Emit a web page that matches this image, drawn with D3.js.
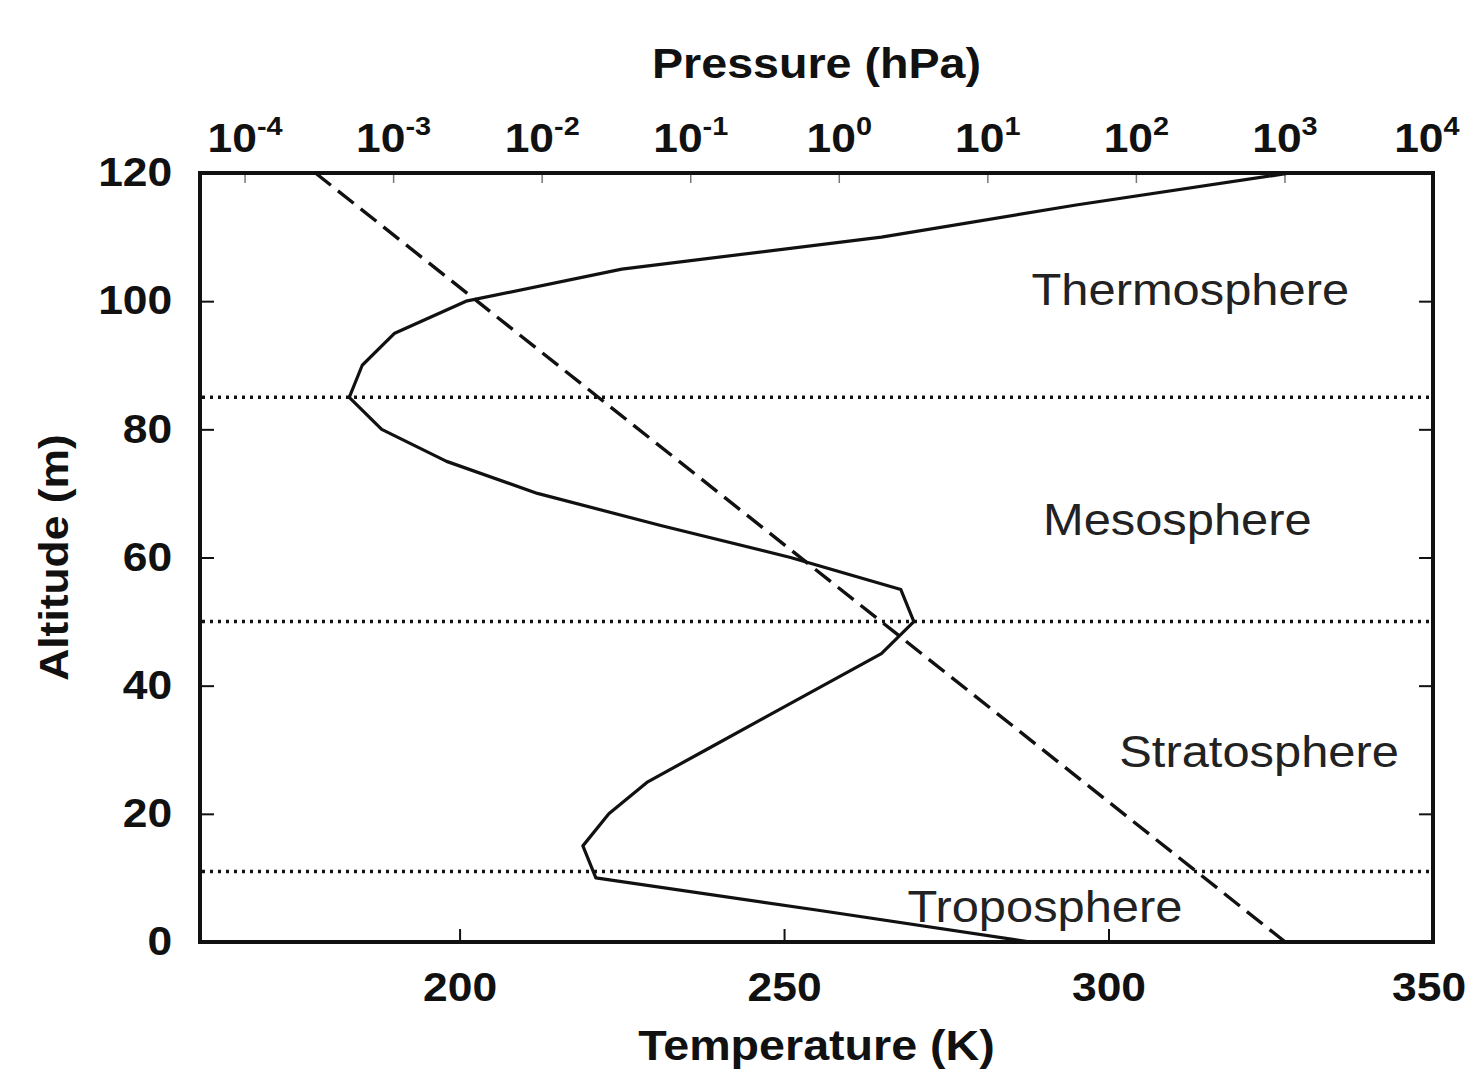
<!DOCTYPE html>
<html>
<head>
<meta charset="utf-8">
<script src="https://cdn.jsdelivr.net/npm/d3@7"></script>
<style>
  body { margin: 0; background: #fff; }
  svg { display: block; }
</style>
</head>
<body>
<div id="parentDiv"></div>
<script>
// data
const altitude = [0, 5, 10, 15, 20, 25, 30, 35, 40, 45, 50, 55, 60, 65, 70, 75, 80, 85, 90, 95, 100, 105, 110, 115, 120];
const temperature = [288, 255, 221, 219, 223, 229, 238, 247, 256, 265, 270, 268, 251, 231, 212, 198, 188, 183, 185, 190, 201, 225, 265, 295, 328];

const pressureAltitude = [0, 120];
const pressure = [1013, 3e-4];

const layerBounds = [11, 50, 85];
const layerNames = ["Troposphere", "Stratosphere", "Mesosphere", "Thermosphere"];
// where each name sits, in (K, km)
const layerLabelT = [290.2, 323.2, 310.6, 312.6];
const layerLabelA = [3.1, 27.3, 63.5, 99.4];

const altTicks = [0, 20, 40, 60, 80, 100, 120];
const tempTicks = [200, 250, 300, 350];
const pressureExp = [-4, -3, -2, -1, 0, 1, 2, 3, 4];

const width = 1468;
const height = 1072;
const margin = {top: 173, right: 35, bottom: 130, left: 200};
const ink = "#111";
const stretch = 1.11; // the figure's text is a bit wide

const svg = d3.select('#parentDiv').append('svg')
  .attr('width', width)
  .attr('height', height)
  .style('font-family', '"Liberation Sans", Arial, sans-serif');

const x = d3.scaleLinear().domain([160, 350]).range([margin.left, width - margin.right]);
const xP = d3.scaleLog().domain([Math.pow(10, -4.3), 1e4]).range([margin.left, width - margin.right]);
const y = d3.scaleLinear().domain([0, 120]).range([height - margin.bottom, margin.top]);

const x0 = margin.left, x1 = width - margin.right;
const y0 = margin.top, y1 = height - margin.bottom;

// AXES
const leftAxis = svg.append('g')
  .attr('transform', `translate(${x0},0)`)
  .call(d3.axisLeft(y).tickValues(altTicks).tickSizeInner(-14).tickSizeOuter(0).tickPadding(25));

const rightAxis = svg.append('g')
  .attr('transform', `translate(${x1},0)`)
  .call(d3.axisRight(y).tickValues(altTicks).tickSizeInner(-14).tickSizeOuter(0).tickFormat(''));

const bottomAxis = svg.append('g')
  .attr('transform', `translate(0,${y1})`)
  .call(d3.axisBottom(x).tickValues(tempTicks).tickSizeInner(-13).tickSizeOuter(0).tickPadding(31));

const topAxis = svg.append('g')
  .attr('transform', `translate(0,${y0})`)
  .call(d3.axisTop(xP).tickValues(pressureExp.map(e => Math.pow(10, e)))
    .tickSizeInner(-10).tickSizeOuter(0).tickPadding(21).tickFormat(''));

[leftAxis, rightAxis, bottomAxis, topAxis].forEach(g => {
  g.select('.domain').remove();
  g.selectAll('.tick line').attr('stroke', ink).attr('stroke-width', 2);
  g.selectAll('.tick text')
    .attr('fill', ink)
    .attr('font-size', 40)
    .attr('font-weight', 'bold')
    .attr('transform', `scale(${stretch},1)`);
});
topAxis.selectAll('.tick line').attr('stroke', '#777').attr('stroke-width', 1.5);

// keep the last temperature label inside the page
bottomAxis.selectAll('.tick text').filter(d => d === 350).attr('x', -4);

// superscript labels on the pressure axis
topAxis.selectAll('.tick text').each(function(d) {
  const t = d3.select(this).attr('dy', null);
  const e = Math.round(Math.log10(d));
  t.append('tspan').text('10');
  t.append('tspan').attr('font-size', 26).attr('dy', -17).text(e);
});
topAxis.selectAll('.tick text').filter(d => d === 1e4).attr('x', -6);

// FRAME
svg.append('rect')
  .attr('x', x0).attr('y', y0)
  .attr('width', x1 - x0).attr('height', y1 - y0)
  .attr('fill', 'none')
  .attr('stroke', ink)
  .attr('stroke-width', 4);

// layer boundaries
svg.selectAll('.bound')
  .data(layerBounds)
  .enter().append('line')
  .attr('class', 'bound')
  .attr('x1', x0 + 2).attr('x2', x1 - 2)
  .attr('y1', d => y(d)).attr('y2', d => y(d))
  .attr('stroke', ink)
  .attr('stroke-width', 3.5)
  .attr('stroke-dasharray', '3,5');

// pressure (dashed)
const pLine = d3.line()
  .x(d => xP(d[1]))
  .y(d => y(d[0]));
svg.append('path')
  .datum(d3.zip(pressureAltitude, pressure))
  .attr('d', pLine)
  .attr('fill', 'none')
  .attr('stroke', ink)
  .attr('stroke-width', 3.4)
  .attr('stroke-dasharray', '20,9');

// temperature profile
const tLine = d3.line()
  .x(d => x(d[1]))
  .y(d => y(d[0]));
svg.append('path')
  .datum(d3.zip(altitude, temperature))
  .attr('d', tLine)
  .attr('fill', 'none')
  .attr('stroke', ink)
  .attr('stroke-width', 3.2)
  .attr('stroke-linejoin', 'round');

// layer names
layerNames.forEach((name, i) => {
  svg.append('text')
    .attr('transform', `translate(${x(layerLabelT[i])},${y(layerLabelA[i])}) scale(${stretch},1)`)
    .attr('text-anchor', 'middle')
    .attr('font-size', 44)
    .attr('fill', '#222')
    .text(name);
});

// AXIS TITLES
svg.append('text')
  .attr('transform', `translate(${(x0 + x1) / 2},78) scale(${stretch},1)`)
  .attr('text-anchor', 'middle')
  .attr('font-size', 42)
  .attr('font-weight', 'bold')
  .attr('fill', ink)
  .text('Pressure (hPa)');

svg.append('text')
  .attr('transform', `translate(${(x0 + x1) / 2},1060) scale(${stretch},1)`)
  .attr('text-anchor', 'middle')
  .attr('font-size', 42)
  .attr('font-weight', 'bold')
  .attr('fill', ink)
  .text('Temperature (K)');

svg.append('text')
  .attr('transform', `translate(68,${(y0 + y1) / 2}) rotate(-90) scale(${stretch},1)`)
  .attr('text-anchor', 'middle')
  .attr('font-size', 40)
  .attr('font-weight', 'bold')
  .attr('fill', ink)
  .text('Altitude (m)');
</script>
</body>
</html>
